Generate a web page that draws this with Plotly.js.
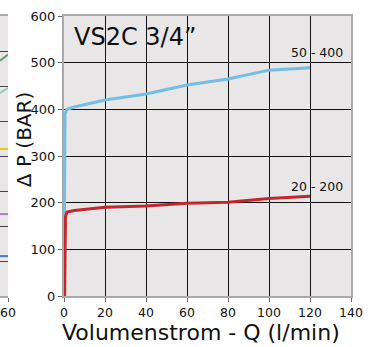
<!DOCTYPE html>
<html><head><meta charset="utf-8">
<script src="https://cdn.plot.ly/plotly-3.0.1.min.js"></script>
<style>html,body{margin:0;padding:0;background:#fff}#chart{width:377px;height:347px}</style>
</head><body><div id="chart"></div>
<script>
// Main chart: VS2C 3/4"
const blueQ = [0, 0.2, 0.5, 1.5, 5, 20, 40, 60, 80, 100, 120];
const blueP = [0, 250, 390, 400, 405, 420, 433, 452, 465, 484, 489];
const redQ = [0.3, 0.4, 0.7, 1.5, 5, 20, 40, 60, 80, 100, 120];
const redP = [0, 148, 170, 180, 183, 190, 193, 199, 201, 209, 214];
const blueLabel = "50 - 400";
const redLabel = "20 - 200";
const chartTitle = "VS2C 3/4\u201D";
const xTitle = "Volumenstrom - Q (l/min)";
const yTitle = "\u0394 P (BAR)";
const xTicks = [0, 20, 40, 60, 80, 100, 120, 140];
const yTicks = [0, 100, 200, 300, 400, 500, 600];
// Neighbouring chart sliver at the left edge
const sliverQ = [57, 60];
const sliverGreen = [336, 345];
const sliverTeal = [290, 297];
const sliverYellow = [210, 210];
const sliverPurple = [117, 117];
const sliverBlue = [57, 57];

const F = "DejaVu Sans, sans-serif";
const bg = "#e8e6e6";
const border = "#a9a9a9";

const traces = [
  {x: blueQ, y: blueP, mode: "lines", line: {color: "#74bde5", width: 3}, xaxis: "x", yaxis: "y", hoverinfo: "skip"},
  {x: redQ, y: redP, mode: "lines", line: {color: "#c1272d", width: 3}, xaxis: "x", yaxis: "y", hoverinfo: "skip"},
  {x: sliverQ, y: sliverGreen, mode: "lines", line: {color: "#5fa35f", width: 2}, xaxis: "x2", yaxis: "y2"},
  {x: sliverQ, y: sliverTeal, mode: "lines", line: {color: "#8fd0c6", width: 2}, xaxis: "x2", yaxis: "y2"},
  {x: sliverQ, y: sliverYellow, mode: "lines", line: {color: "#f0c419", width: 2}, xaxis: "x2", yaxis: "y2"},
  {x: sliverQ, y: sliverPurple, mode: "lines", line: {color: "#a77bc4", width: 2}, xaxis: "x2", yaxis: "y2"},
  {x: sliverQ, y: sliverBlue, mode: "lines", line: {color: "#4d76c2", width: 2}, xaxis: "x2", yaxis: "y2"}
];

const layout = {
  width: 377, height: 347,
  margin: {l: 0, r: 26, t: 16, b: 51},
  paper_bgcolor: "#fff", plot_bgcolor: bg,
  showlegend: false,
  font: {family: F, color: "#111", size: 12},
  xaxis: {
    domain: [64/351, 1], range: [0, 140], tickvals: xTicks,
    showgrid: true, gridcolor: "#111", gridwidth: 1, zeroline: false,
    showline: true, linecolor: border, linewidth: 2, mirror: true,
    ticks: "outside", ticklen: 4, tickcolor: "#666",
    tickfont: {family: F, size: 12.5, color: "#111"},
    anchor: "y"
  },
  yaxis: {
    domain: [0, 1], range: [0, 600], tickvals: yTicks,
    showgrid: true, gridcolor: "#111", gridwidth: 1, zeroline: false,
    showline: true, linecolor: border, linewidth: 2, mirror: true,
    ticks: "outside", ticklen: 4, tickcolor: "#666",
    tickfont: {family: F, size: 13, color: "#111"},
    anchor: "x"
  },
  xaxis2: {
    domain: [0, 8/351], range: [57, 60], tickvals: [60],
    showgrid: false, zeroline: false,
    showline: true, linecolor: border, linewidth: 2, mirror: true,
    ticks: "outside", ticklen: 4, tickcolor: "#666",
    tickfont: {family: F, size: 12.5, color: "#111"},
    anchor: "y2"
  },
  yaxis2: {
    domain: [0, 1], range: [0, 400], dtick: 50,
    showgrid: true, gridcolor: "#444", gridwidth: 1, zeroline: false,
    showticklabels: false, showline: false,
    anchor: "x2"
  },
  annotations: [
    {xref: "x", yref: "y", x: 4, y: 556, xanchor: "left", yanchor: "middle", text: chartTitle, showarrow: false, font: {family: F, size: 24, color: "#111"}},
    {xref: "x", yref: "y", x: 137, y: 521, xanchor: "right", yanchor: "middle", text: blueLabel, showarrow: false, font: {family: F, size: 12.5, color: "#111"}},
    {xref: "x", yref: "y", x: 137, y: 234, xanchor: "right", yanchor: "middle", text: redLabel, showarrow: false, font: {family: F, size: 12.5, color: "#111"}},
    {xref: "paper", yref: "y", x: 24/351, y: 334, xanchor: "center", yanchor: "middle", textangle: -90, text: yTitle, showarrow: false, font: {family: F, size: 20, color: "#111"}},
    {xref: "paper", yref: "paper", x: 201/351, y: -0.13, xanchor: "center", yanchor: "middle", text: xTitle, showarrow: false, font: {family: F, size: 22, color: "#111"}}
  ]
};
Plotly.newPlot("chart", traces, layout, {staticPlot: true, displayModeBar: false});
</script></body></html>
